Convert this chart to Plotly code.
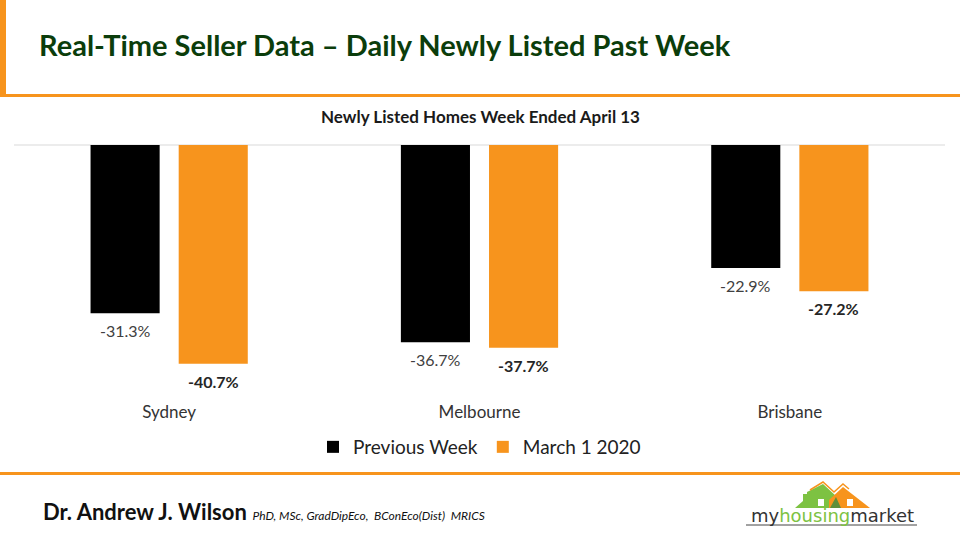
import plotly.graph_objects as go

categories = ["Sydney", "Melbourne", "Brisbane"]
prev_week = [-31.3, -36.7, -22.9]
march_2020 = [-40.7, -37.7, -27.2]
series_names = ["Previous Week", "March 1 2020"]

ORANGE = "#F7941D"
GREEN = "#7DC242"
W, H = 960, 540
ML, MR, MT, MB = 14, 15, 145, 145
PW, PH = W - ML - MR, H - MT - MB

def px(x):
    return (x - ML) / PW

def py(y):
    return (H - MB - y) / PH

fig = go.Figure()
fig.add_trace(go.Bar(
    x=categories, y=prev_week, name=series_names[0],
    marker=dict(color="#000000", line=dict(width=0)),
))
fig.add_trace(go.Bar(
    x=categories, y=march_2020, name=series_names[1],
    marker=dict(color=ORANGE, line=dict(width=0)),
))

annotations = []
for c, v in zip(categories, prev_week):
    annotations.append(dict(x=c, y=v, xref="x", yref="y", text=f"{v:.1f}%", showarrow=False,
                            xanchor="center", yanchor="top", xshift=-44, yshift=-6,
                            font=dict(family="Lato", size=16, color="#404040")))
for c, v in zip(categories, march_2020):
    annotations.append(dict(x=c, y=v, xref="x", yref="y", text=f"<b>{v:.1f}%</b>", showarrow=False,
                            xanchor="center", yanchor="top", xshift=44, yshift=-6,
                            font=dict(family="Lato", size=16, color="#262626")))

shapes = []
# left orange vertical bar
shapes.append(dict(type="rect", xref="paper", yref="paper", x0=px(0), x1=px(6), y0=py(96), y1=py(0),
                   fillcolor=ORANGE, line=dict(width=0), layer="above"))
# top orange rule
shapes.append(dict(type="rect", xref="paper", yref="paper", x0=px(0), x1=px(960), y0=py(97), y1=py(94),
                   fillcolor=ORANGE, line=dict(width=0)))
# bottom orange rule
shapes.append(dict(type="rect", xref="paper", yref="paper", x0=px(0), x1=px(960), y0=py(475), y1=py(472),
                   fillcolor=ORANGE, line=dict(width=0)))
# gridline at zero
shapes.append(dict(type="line", xref="paper", yref="paper", x0=0, x1=1, y0=1, y1=1,
                   line=dict(color="#D9D9D9", width=1), layer="below"))

def path(points):
    return "M " + " L ".join(f"{px(a)},{py(b)}" for a, b in points) + " Z"

# logo: green house with chimney
shapes.append(dict(type="path", xref="paper", yref="paper",
                   path=path([(795, 508), (803, 501), (803, 494), (807, 494), (807, 492), (823, 484),
                              (836, 496), (841, 508)]),
                   fillcolor=GREEN, line=dict(width=0)))
# orange house
shapes.append(dict(type="path", xref="paper", yref="paper",
                   path=path([(829, 500), (843, 487), (870, 508), (829, 508)]),
                   fillcolor=ORANGE, line=dict(width=0)))
# overlap darker
shapes.append(dict(type="path", xref="paper", yref="paper",
                   path=path([(830, 508), (836, 497), (841, 508)]),
                   fillcolor="#5E8F3A", line=dict(width=0)))
# orange roof outline
shapes.append(dict(type="path", xref="paper", yref="paper",
                   path="M " + " L ".join(f"{px(a)},{py(b)}" for a, b in
                                          [(810, 490), (823, 482), (834, 492), (843, 484), (849, 489)]),
                   fillcolor="rgba(0,0,0,0)", line=dict(color=ORANGE, width=1.5)))
# windows
for x0 in (818, 847):
    shapes.append(dict(type="rect", xref="paper", yref="paper", x0=px(x0), x1=px(x0 + 6), y0=py(506), y1=py(499),
                       fillcolor="white", line=dict(width=0)))
# logo underline
shapes.append(dict(type="line", xref="paper", yref="paper", x0=px(746), x1=px(917), y0=py(525), y1=py(525),
                   line=dict(color="#444444", width=1)))

annotations += [
    dict(text="<b>Real-Time Seller Data – Daily Newly Listed Past Week</b>", xref="paper", yref="paper",
         x=px(37), y=py(44), xanchor="left", yanchor="middle", showarrow=False,
         font=dict(family="Lato", size=29, color="#0B3D0B")),
    dict(text="<b>Newly Listed Homes Week Ended April 13</b>", xref="paper", yref="paper",
         x=px(480), y=py(117), xanchor="center", yanchor="middle", showarrow=False,
         font=dict(family="Lato", size=17, color="#1A1A1A")),
    dict(text="<b>Dr. Andrew J. Wilson</b> <i><span style='font-size:12px'>PhD, MSc, GradDipEco,  BConEco(Dist)  MRICS</span></i>",
         xref="paper", yref="paper", x=px(41), y=py(511), xanchor="left", yanchor="middle", showarrow=False,
         font=dict(family="Lato", size=22, color="#111111")),
    dict(text="my<span style='color:#7DC242'>housing</span>market", xref="paper", yref="paper",
         x=px(832), y=py(515), xanchor="center", yanchor="middle", showarrow=False,
         font=dict(family="DejaVu Sans", size=18, color="#333333")),
]

fig.update_layout(
    width=W, height=H, margin=dict(l=ML, r=MR, t=MT, b=MB),
    paper_bgcolor="white", plot_bgcolor="white",
    barmode="group", bargap=0.432, bargroupgap=0.216,
    shapes=shapes, annotations=annotations,
    showlegend=True,
    legend=dict(orientation="h", x=0.5, xanchor="center", y=py(447), yanchor="middle",
                font=dict(family="Lato", size=19, color="#222222"), itemwidth=30,
                traceorder="normal"),
    xaxis=dict(showline=False, showgrid=False, ticks="", tickfont=dict(family="Lato", size=17, color="#333333"),
               range=[-0.5, 2.5], ticklabelstandoff=5),
    yaxis=dict(range=[-46.5, 0], showgrid=False, showticklabels=False, zeroline=False, showline=False),
)

fig.write_html("out.html")
